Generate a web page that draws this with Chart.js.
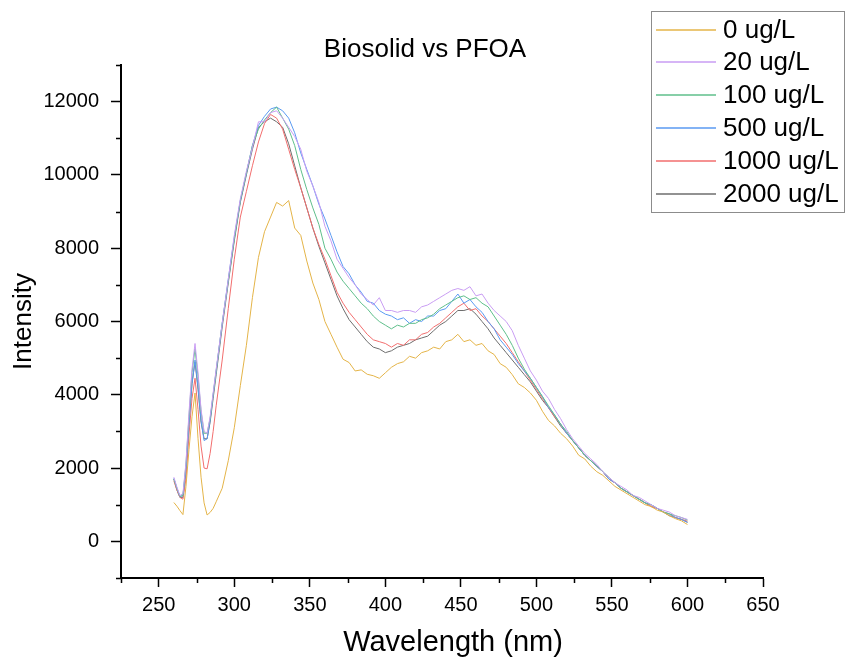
<!DOCTYPE html>
<html>
<head>
<meta charset="utf-8">
<script src="https://cdn.jsdelivr.net/npm/chart.js@4.4.1/dist/chart.umd.min.js"></script>
<style>
html,body{margin:0;padding:0;background:#fff;}
#wrap{position:relative;width:847px;height:660px;}
</style>
</head>
<body>
<div id="wrap"><canvas id="c" width="847" height="660"></canvas></div>
<script>
const chartTitle = "Biosolid vs PFOA";
const xTitle = "Wavelength (nm)";
const yTitle = "Intensity";
const seriesLabels = ["0 ug/L","20 ug/L","100 ug/L","500 ug/L","1000 ug/L","2000 ug/L"];
const seriesColors = ["#e4b448","#c99df3","#5fbf8b","#5a9af2","#f26e6e","#6e6e6e"];
const xMajorTicks = [250,300,350,400,450,500,550,600,650];
const yMajorTicks = [0,2000,4000,6000,8000,10000,12000];

const wavelengths = [260,262,264,266,268,270,272,274,276,278,280,282,284,286,
288,292,296,300,304,308,312,316,320,324,328,332,336,340,344,348,352,356,360,364,368,372,376,380,384,388,392,396,400,404,408,412,416,420,424,428,432,436,440,444,448,452,456,460,464,468,472,476,480,484,488,492,496,500,504,508,512,516,520,524,528,532,536,540,544,548,552,556,560,564,568,572,576,580,584,588,592,596,600];

const s0 = [1060,960,840,730,1500,2500,3400,4050,2800,1750,1050,720,790,900,
1080,1450,2200,3100,4250,5350,6650,7750,8450,8850,9250,9150,9300,8550,8350,7650,7050,6600,6000,5650,5300,4970,4880,4650,4680,4560,4520,4450,4600,4750,4850,4900,5050,5000,5150,5200,5300,5250,5450,5500,5650,5450,5500,5350,5400,5200,5100,4850,4750,4550,4300,4200,4050,3850,3550,3300,3150,2950,2800,2600,2350,2250,2050,1900,1800,1650,1500,1400,1300,1200,1100,1000,950,850,800,700,620,560,460];

const s20 = [1750,1480,1250,1300,2150,3500,4700,5400,4600,3600,3000,2950,3400,4050,
4700,5950,7150,8350,9350,10100,10750,11450,11450,11700,11750,11550,11300,11050,10700,10100,9700,9250,8600,8200,7700,7450,7200,7000,6750,6600,6450,6650,6300,6300,6250,6300,6300,6250,6400,6450,6550,6650,6750,6850,6900,6850,6950,6700,6750,6500,6300,6150,6000,5750,5350,5000,4650,4400,4100,3900,3600,3350,3050,2800,2600,2400,2250,2100,1900,1750,1600,1500,1400,1250,1200,1100,1000,900,850,800,700,650,600];

const s100 = [1700,1450,1230,1250,2100,3400,4600,5250,4500,3550,2950,2950,3350,4000,
4650,5950,7100,8250,9300,10050,10800,11250,11500,11700,11850,11550,11250,10800,10150,9600,9100,8650,8000,7700,7350,7100,6900,6700,6500,6350,6150,6000,5900,5800,5900,5850,5950,5950,6050,6100,6200,6350,6450,6550,6650,6700,6600,6650,6500,6400,6150,5900,5650,5350,5000,4700,4450,4200,3950,3700,3450,3200,3000,2750,2550,2350,2200,2050,1900,1750,1600,1450,1350,1250,1150,1050,1000,900,800,750,700,650,580];

const s500 = [1720,1450,1220,1250,2000,3200,4300,4950,4200,3300,2750,2800,3300,4000,
4650,5950,7150,8300,9300,10050,10800,11350,11600,11800,11850,11750,11550,11150,10600,10150,9700,9200,8800,8350,7900,7500,7300,7000,6800,6550,6500,6300,6200,6150,6050,6100,5950,6050,6000,6150,6150,6300,6350,6550,6750,6500,6600,6400,6250,6000,5800,5500,5300,5100,4850,4650,4450,4200,3950,3650,3450,3200,2950,2750,2550,2350,2200,2050,1900,1700,1600,1450,1350,1250,1150,1050,1000,900,800,750,650,600,520];

const s1000 = [1650,1400,1200,1150,1700,2900,3900,4450,3600,2600,2000,1980,2400,3000,
3700,4950,6350,7700,8850,9550,10250,10900,11400,11650,11550,11250,10700,10150,9650,9100,8550,8100,7700,7250,6800,6500,6250,6050,5850,5650,5500,5450,5400,5300,5400,5350,5500,5500,5650,5700,5850,5950,6100,6250,6400,6500,6300,6350,6150,6000,5800,5600,5400,5150,4900,4650,4400,4150,3900,3650,3400,3200,2950,2750,2550,2350,2200,2050,1900,1700,1600,1450,1350,1250,1150,1050,950,900,800,750,650,600,550];

const s2000 = [1700,1400,1200,1200,1900,3200,4300,4900,4150,3250,2800,2800,3250,3900,
4550,5850,7050,8200,9250,10000,10700,11300,11450,11550,11450,11300,10850,10250,9650,9100,8550,8050,7600,7150,6700,6350,6050,5850,5650,5450,5300,5250,5150,5200,5300,5350,5400,5500,5550,5600,5750,5900,6000,6150,6300,6300,6350,6200,6000,5800,5550,5350,5150,4950,4750,4550,4350,4100,3850,3650,3400,3150,2950,2750,2550,2350,2200,2050,1900,1700,1600,1450,1350,1250,1150,1050,950,900,800,700,650,600,520];

const seriesValues = [s0,s20,s100,s500,s1000,s2000];

const FONT = "'Liberation Sans', Arial, Helvetica, sans-serif";

const datasets = seriesValues.map((vals,i)=>({
  label: seriesLabels[i],
  data: wavelengths.map((w,j)=>({x:w,y:vals[j]})),
  borderColor: seriesColors[i],
  backgroundColor: seriesColors[i],
  borderWidth: 1,
  pointRadius: 0,
  tension: 0,
  fill: false
}));

const decor = {
  id: 'decor',
  afterDraw(chart){
    const ctx = chart.ctx;
    const xs = chart.scales.x, ys = chart.scales.y;
    ctx.save();
    // minor ticks
    ctx.strokeStyle = '#000';
    ctx.lineWidth = 1.5;
    ctx.beginPath();
    for (let v = 225; v <= 650; v += 50) {
      const px = Math.round(xs.getPixelForValue(v)) + 0.5;
      ctx.moveTo(px, xs.top); ctx.lineTo(px, xs.top + 5);
    }
    for (let v = -1000; v <= 13000; v += 2000) {
      const py = Math.round(ys.getPixelForValue(v)) + 0.5;
      ctx.moveTo(ys.right, py); ctx.lineTo(ys.right - 5, py);
    }
    ctx.stroke();
    // title
    ctx.fillStyle = '#000';
    ctx.font = '26px ' + FONT;
    ctx.textAlign = 'center';
    ctx.textBaseline = 'middle';
    ctx.fillText(chartTitle, 425, 50);
    // x axis title
    ctx.font = '29px ' + FONT;
    ctx.fillText(xTitle, 453, 643);
    // legend
    const bx = 651.5, by = 11.5, bw = 193, bh = 201;
    ctx.fillStyle = '#fff';
    ctx.fillRect(bx, by, bw, bh);
    ctx.strokeStyle = '#8c8c8c';
    ctx.lineWidth = 1;
    ctx.strokeRect(bx, by, bw, bh);
    ctx.font = '26px ' + FONT;
    ctx.textAlign = 'left';
    ctx.textBaseline = 'middle';
    seriesLabels.forEach((lab,i)=>{
      const y = 29.5 + i*32.8;
      ctx.strokeStyle = seriesColors[i];
      ctx.lineWidth = 1.5;
      ctx.beginPath();
      ctx.moveTo(656, Math.round(y)); ctx.lineTo(716, Math.round(y));
      ctx.stroke();
      ctx.fillStyle = '#000';
      ctx.fillText(lab, 723, y+1);
    });
    ctx.restore();
  }
};

new Chart(document.getElementById('c'), {
  type: 'line',
  data: { datasets },
  options: {
    responsive: false,
    animation: false,
    parsing: true,
    layout: { padding: { left: 0, right: 84, top: 65, bottom: 0 } },
    plugins: { legend: { display: false }, title: { display: false }, tooltip: { enabled: false } },
    scales: {
      x: {
        type: 'linear', min: 225, max: 650,
        afterFit(s){ s.height = 82; },
        border: { display: true, color: '#000', width: 2 },
        grid: { display: true, drawOnChartArea: false, drawTicks: true, tickLength: 9,
          tickWidth: 1.5,
          tickColor: (c)=> (xMajorTicks.includes(c.tick && c.tick.value) ? '#000' : 'rgba(0,0,0,0)') },
        ticks: { stepSize: 25, autoSkip: false, maxRotation: 0, padding: 6,
          color: '#000', font: { family: FONT, size: 20 },
          callback: (v)=> xMajorTicks.includes(v) ? String(v) : '' },
        title: { display: false }
      },
      y: {
        type: 'linear', min: -1000, max: 13000,
        afterFit(s){ s.width = 121; },
        border: { display: true, color: '#000', width: 2 },
        grid: { display: true, drawOnChartArea: false, drawTicks: true, tickLength: 10,
          tickWidth: 1.5,
          tickColor: (c)=> (yMajorTicks.includes(c.tick && c.tick.value) ? '#000' : 'rgba(0,0,0,0)') },
        ticks: { stepSize: 1000, autoSkip: false, padding: 12,
          color: '#000', font: { family: FONT, size: 20 },
          callback: (v)=> yMajorTicks.includes(v) ? String(v) : '' },
        title: { display: true, text: yTitle, color: '#000', font: { family: FONT, size: 26 }, padding: { top: 8, bottom: 0 } }
      }
    }
  },
  plugins: [decor]
});
</script>
</body>
</html>
